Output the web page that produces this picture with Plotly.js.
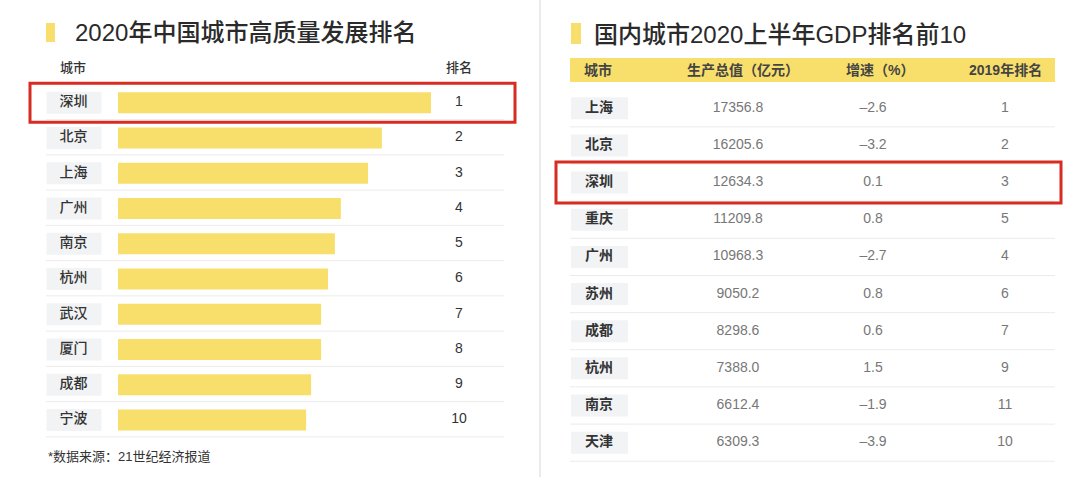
<!DOCTYPE html>
<html>
<head>
<meta charset="utf-8">
<script src="https://cdn.plot.ly/plotly-3.0.1.min.js"></script>
<style>html,body{margin:0;padding:0;background:#fff;}#chart{width:1080px;height:477px;}</style>
</head>
<body>
<div id="chart"></div>
<script>
// ---------- data ----------
const leftTitle = '2020年中国城市高质量发展排名';
const leftHeaders = ['城市', '排名'];
const leftCities = ['深圳', '北京', '上海', '广州', '南京', '杭州', '武汉', '厦门', '成都', '宁波'];
const leftScores = [100, 84.3, 79.9, 71.2, 69.3, 67.1, 64.9, 64.9, 61.7, 60.1];
const leftRanks = [1, 2, 3, 4, 5, 6, 7, 8, 9, 10];
const footnote = '*数据来源：21世纪经济报道';

const rightTitle = '国内城市2020上半年GDP排名前10';
const rightHeaders = ['城市', '生产总值（亿元）', '增速（%）', '2019年排名'];
const rightCities = ['上海', '北京', '深圳', '重庆', '广州', '苏州', '成都', '杭州', '南京', '天津'];
const gdpValues = [17356.8, 16205.6, 12634.3, 11209.8, 10968.3, 9050.2, 8298.6, 7388.0, 6612.4, 6309.3];
const growthRates = [-2.6, -3.2, 0.1, 0.8, -2.7, 0.8, 0.6, 1.5, -1.9, -3.9];
const rank2019 = [1, 2, 3, 5, 4, 6, 7, 9, 11, 10];
const highlightCity = '深圳';

// ---------- layout constants ----------
const W = 1080, H = 477;
const FONT = '"Liberation Sans", "Noto Sans CJK SC", sans-serif';
const YELLOW = '#F8DF6C';
const GRAY_BOX = '#F2F3F5';
const SEP = '#EBEBEB';
const RED = '#D62C22';
const L0 = 102.7, LS = 35.25;   // left rows: first centre, step (px)
const R0 = 108.3, RS = 37.15;   // right rows
const py = p => 1 - p / H;

const fmtGrowth = v => (v < 0 ? '\u2013' + Math.abs(v).toFixed(1) : v.toFixed(1));

const traces = [
  // left: grey city label boxes
  {type: 'bar', orientation: 'h', xaxis: 'x2', yaxis: 'y',
   y: leftCities, x: leftCities.map(() => 55), base: leftCities.map(() => 46.5),
   width: 22 / LS, marker: {color: GRAY_BOX}, hoverinfo: 'skip'},
  // left: score bars
  {type: 'bar', orientation: 'h', xaxis: 'x', yaxis: 'y',
   y: leftCities, x: leftScores, width: 21 / LS,
   marker: {color: YELLOW}, hoverinfo: 'skip'},
  // left: city names
  {type: 'scatter', mode: 'text', xaxis: 'x2', yaxis: 'y',
   y: leftCities, x: leftCities.map(() => 73.5), text: leftCities,
   textfont: {family: FONT, size: 14, color: '#333', weight: 500}, hoverinfo: 'skip'},
  // left: rank
  {type: 'scatter', mode: 'text', xaxis: 'x2', yaxis: 'y',
   y: leftCities, x: leftCities.map(() => 459), text: leftRanks.map(String),
   textfont: {family: FONT, size: 14, color: '#333'}, hoverinfo: 'skip'},
  // right: grey city label boxes
  {type: 'bar', orientation: 'h', xaxis: 'x2', yaxis: 'y2',
   y: rightCities, x: rightCities.map(() => 57), base: rightCities.map(() => 571),
   width: 22 / RS, marker: {color: GRAY_BOX}, hoverinfo: 'skip'},
  {type: 'scatter', mode: 'text', xaxis: 'x2', yaxis: 'y2',
   y: rightCities, x: rightCities.map(() => 599), text: rightCities,
   textfont: {family: FONT, size: 14, color: '#333', weight: 700}, hoverinfo: 'skip'},
  {type: 'scatter', mode: 'text', xaxis: 'x2', yaxis: 'y2',
   y: rightCities, x: rightCities.map(() => 738), text: gdpValues.map(v => v.toFixed(1)),
   textfont: {family: FONT, size: 14, color: '#777'}, hoverinfo: 'skip'},
  {type: 'scatter', mode: 'text', xaxis: 'x2', yaxis: 'y2',
   y: rightCities, x: rightCities.map(() => 873), text: growthRates.map(fmtGrowth),
   textfont: {family: FONT, size: 14, color: '#777'}, hoverinfo: 'skip'},
  {type: 'scatter', mode: 'text', xaxis: 'x2', yaxis: 'y2',
   y: rightCities, x: rightCities.map(() => 1005), text: rank2019.map(String),
   textfont: {family: FONT, size: 14, color: '#777'}, hoverinfo: 'skip'}
];

const shapes = [];
// divider between panels
shapes.push({type: 'line', xref: 'x2', yref: 'paper', x0: 540, x1: 540, y0: 0, y1: 1,
             line: {color: '#E4E4E4', width: 1.5}});
// title markers
shapes.push({type: 'rect', xref: 'x2', yref: 'paper', x0: 46, x1: 55, y0: py(42), y1: py(23),
             fillcolor: YELLOW, line: {width: 0}});
shapes.push({type: 'rect', xref: 'x2', yref: 'paper', x0: 571, x1: 581, y0: py(44), y1: py(23),
             fillcolor: YELLOW, line: {width: 0}});
// right header band
shapes.push({type: 'rect', xref: 'x2', yref: 'paper', x0: 570, x1: 1055, y0: py(82), y1: py(58),
             fillcolor: YELLOW, line: {width: 0}, layer: 'below'});
// separators
leftCities.forEach((c, i) => shapes.push({type: 'line', xref: 'x2', yref: 'y',
  x0: 46, x1: 504, y0: i + 0.48, y1: i + 0.48, line: {color: SEP, width: 1}}));
rightCities.forEach((c, i) => shapes.push({type: 'line', xref: 'x2', yref: 'y2',
  x0: 570, x1: 1055, y0: i + 0.5, y1: i + 0.5, line: {color: SEP, width: 1}}));
// red highlight boxes
const li = leftCities.indexOf(highlightCity);
shapes.push({type: 'rect', xref: 'x2', yref: 'y', x0: 30, x1: 515,
  y0: li - 19.5 / LS, y1: li + 19.5 / LS, line: {color: RED, width: 3}});
const ri = rightCities.indexOf(highlightCity);
shapes.push({type: 'rect', xref: 'x2', yref: 'y2', x0: 556, x1: 1061,
  y0: ri - 20.5 / RS, y1: ri + 20.5 / RS, line: {color: RED, width: 3}});

const ann = (text, x, y, size, color, xanchor, weight) => ({
  text, x, y: py(y), xref: 'x2', yref: 'paper', xanchor: xanchor || 'center', yanchor: 'middle',
  showarrow: false, font: {family: FONT, size, color, weight: weight || 400}
});
const annotations = [
  ann(leftTitle, 73, 33, 24, '#2A2A2A', 'left', 500),
  ann(rightTitle, 592, 34, 24, '#2A2A2A', 'left', 500),
  ann(leftHeaders[0], 73, 67, 13, '#333', 'center', 500),
  ann(leftHeaders[1], 459, 67, 13, '#333', 'center', 500),
  ann(footnote, 46, 456, 13, '#333', 'left')
];
const rightHeaderX = [598, 743, 880, 1005];
rightHeaders.forEach((h, i) => annotations.push(ann(h, rightHeaderX[i], 70, 14, '#444', 'center', 700)));

const hidden = {visible: false, showgrid: false, zeroline: false, fixedrange: true};
const layout = {
  width: W, height: H, margin: {l: 0, r: 0, t: 0, b: 0},
  paper_bgcolor: '#fff', plot_bgcolor: 'rgba(0,0,0,0)',
  showlegend: false, hovermode: false, barmode: 'overlay',
  xaxis: Object.assign({}, hidden, {domain: [118 / W, 431 / W], range: [0, 100], anchor: 'y'}),
  xaxis2: Object.assign({}, hidden, {domain: [0, 1], range: [0, W], anchor: 'y'}),
  yaxis: Object.assign({}, hidden, {type: 'category', domain: [0, 1], anchor: 'x',
    range: [(H - L0) / LS, -L0 / LS]}),
  yaxis2: Object.assign({}, hidden, {type: 'category', domain: [0, 1], anchor: 'x2',
    range: [(H - R0) / RS, -R0 / RS]}),
  shapes, annotations
};

Plotly.newPlot('chart', traces, layout, {displayModeBar: false, staticPlot: true});
</script>
</body>
</html>
